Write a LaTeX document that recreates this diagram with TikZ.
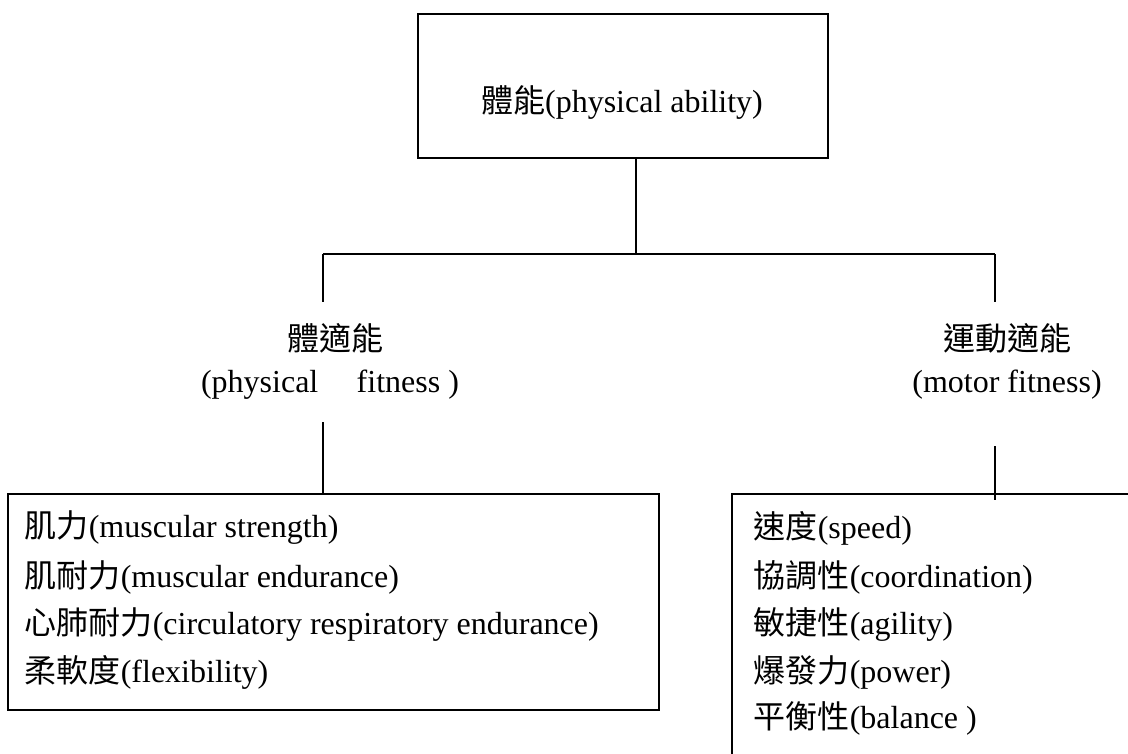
\documentclass[tikz,border=0pt]{standalone}
\usepackage{fontspec}
\setmainfont{Liberation Serif}
\newfontfamily\cjk{Noto Sans CJK TC}
\newcommand{\zh}[1]{{\cjk #1}}
\begin{document}
\begin{tikzpicture}[x=1pt,y=-1pt,
  font=\fontsize{32}{38}\selectfont,
  line width=1.6pt,
  boxnode/.style={draw, line width=1.6pt, inner sep=0pt, fill=none},
  lbl/.style={inner sep=0pt},
  item/.style={inner sep=0pt, anchor=west}]
\useasboundingbox (0,0) rectangle (1128,753);
\clip (0,0) rectangle (1128,753);
% top box
\node[boxnode, minimum width=410pt, minimum height=144pt] (top) at (623,86) {};
\node[lbl] (toplbl) at (622,102) {\zh{體能}(physical ability)};
% junctions
\coordinate (j) at (636,254);
\coordinate (jl) at (323,254);
\coordinate (jr) at (995,254);
\coordinate (la) at (323,302);
\coordinate (ra) at (995,302);
\draw (top.south -| j) -- (j);
\draw (jl) -- (jr);
\draw (jl) -- (la);
\draw (jr) -- (ra);
% labels
\node[lbl] (pf) at (335,338) {\zh{體適能}};
\node[lbl] (pfen) at (330,385) {(physical\hspace{1.2em}fitness )};
\node[lbl] (mf) at (1007,338) {\zh{運動適能}};
\node[lbl] (mfen) at (1007,385) {(motor fitness)};
% lower boxes
\node[boxnode, minimum width=651pt, minimum height=216pt] (lbox) at (333.5,602) {};
\node[boxnode, minimum width=409pt, minimum height=276pt] (rbox) at (936.5,632) {};
\coordinate (lb) at (323,422);
\coordinate (rb1) at (995,446);
\coordinate (rb2) at (995,500);
\draw (lb) -- (lbox.north -| lb);
\draw (rb1) -- (rb2);
% left items
\node[item] (l1) at (24,528) {\zh{肌力}(muscular strength)};
\node[item] (l2) at (24,577) {\zh{肌耐力}(muscular endurance)};
\node[item] (l3) at (24,625) {\zh{心肺耐力}(circulatory respiratory endurance)};
\node[item] (l4) at (24,672) {\zh{柔軟度}(flexibility)};
% right items
\node[item] (r1) at (753,528) {\zh{速度}(speed)};
\node[item] (r2) at (753,577) {\zh{協調性}(coordination)};
\node[item] (r3) at (753,625) {\zh{敏捷性}(agility)};
\node[item] (r4) at (753,672) {\zh{爆發力}(power)};
\node[item] (r5) at (753,718) {\zh{平衡性}(balance )};
\end{tikzpicture}
\end{document}
